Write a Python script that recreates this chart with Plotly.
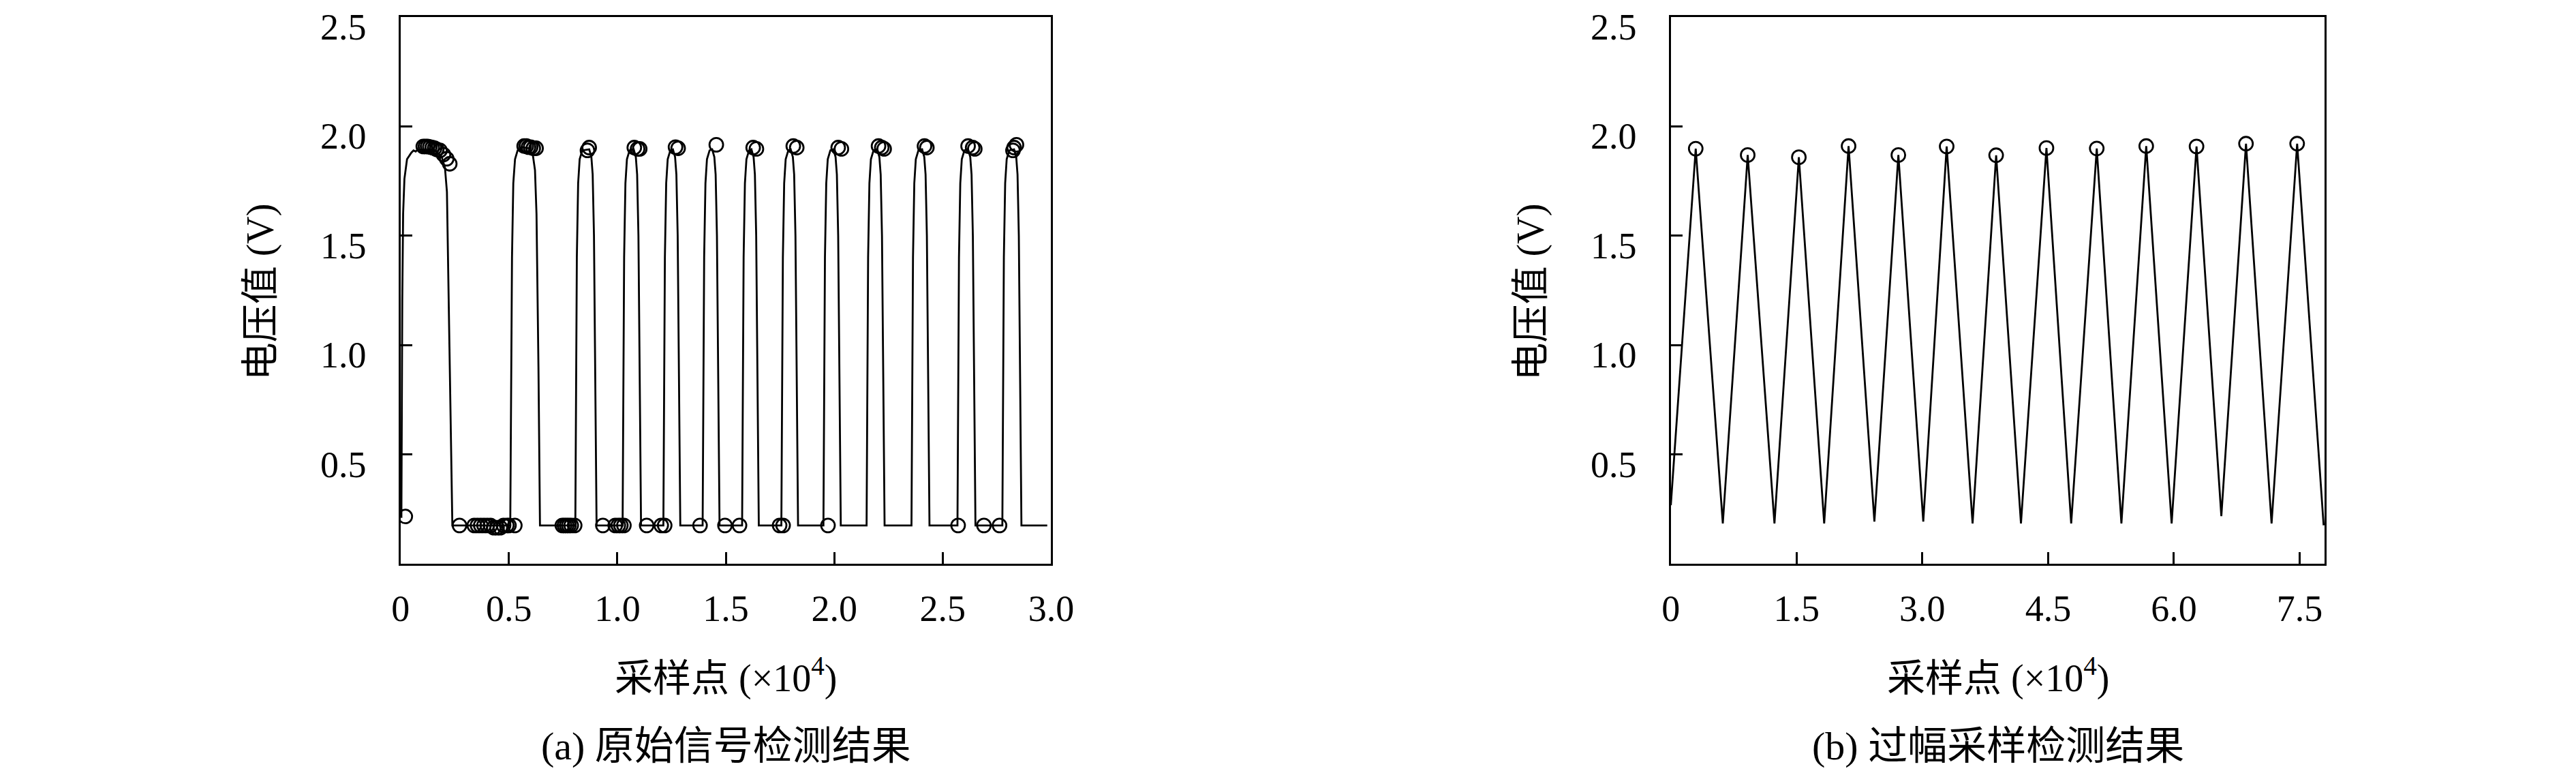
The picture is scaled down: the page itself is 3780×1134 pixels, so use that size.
import plotly.graph_objects as go

# --- (a) raw signal: waveform vertices (x in 1e4 samples, y in volts) ---
RAW_X = [
    0.004, 0.008, 0.012, 0.018, 0.030, 0.050, 0.060, 0.070, 0.080, 0.160, 0.190, 0.205, 0.214, 0.222, 0.232, 0.239,
    0.506, 0.514, 0.520, 0.528, 0.540, 0.560, 0.590, 0.610, 0.620, 0.627, 0.636, 0.643,
    0.806, 0.813, 0.819, 0.826, 0.838, 0.870, 0.880, 0.886, 0.892, 0.904,
    1.024, 1.031, 1.037, 1.044, 1.056, 1.075, 1.085, 1.091, 1.097, 1.109,
    1.212, 1.219, 1.225, 1.232, 1.244, 1.256, 1.266, 1.272, 1.278, 1.290,
    1.393, 1.400, 1.406, 1.413, 1.425, 1.437, 1.447, 1.453, 1.459, 1.471,
    1.575, 1.582, 1.588, 1.595, 1.607, 1.618, 1.628, 1.634, 1.640, 1.652,
    1.756, 1.763, 1.769, 1.776, 1.788, 1.799, 1.809, 1.815, 1.821, 1.833,
    1.950, 1.957, 1.963, 1.970, 1.982, 1.996, 2.006, 2.012, 2.018, 2.030,
    2.149, 2.156, 2.162, 2.169, 2.181, 2.198, 2.208, 2.214, 2.220, 2.232,
    2.356, 2.363, 2.369, 2.376, 2.388, 2.405, 2.415, 2.421, 2.427, 2.439,
    2.568, 2.575, 2.581, 2.588, 2.600, 2.617, 2.627, 2.633, 2.639, 2.651,
    2.775, 2.782, 2.788, 2.795, 2.807, 2.829, 2.839, 2.845, 2.851, 2.863,
    2.982,
]
RAW_Y = [
    0.21, 1.20, 1.60, 1.76, 1.85, 1.88, 1.89, 1.885, 1.895, 1.89, 1.86, 1.81, 1.70, 1.20, 0.60, 0.175,
    0.175, 1.40, 1.74, 1.85, 1.89, 1.905, 1.90, 1.87, 1.80, 1.60, 0.90, 0.175,
    0.175, 1.40, 1.74, 1.85, 1.89, 1.895, 1.86, 1.78, 1.50, 0.175,
    0.175, 1.40, 1.74, 1.85, 1.89, 1.895, 1.86, 1.78, 1.50, 0.175,
    0.175, 1.40, 1.74, 1.85, 1.89, 1.895, 1.86, 1.78, 1.50, 0.175,
    0.175, 1.40, 1.74, 1.85, 1.89, 1.895, 1.86, 1.78, 1.50, 0.175,
    0.175, 1.40, 1.74, 1.85, 1.89, 1.895, 1.86, 1.78, 1.50, 0.175,
    0.175, 1.40, 1.74, 1.85, 1.89, 1.895, 1.86, 1.78, 1.50, 0.175,
    0.175, 1.40, 1.74, 1.85, 1.89, 1.895, 1.86, 1.78, 1.50, 0.175,
    0.175, 1.40, 1.74, 1.85, 1.89, 1.895, 1.86, 1.78, 1.50, 0.175,
    0.175, 1.40, 1.74, 1.85, 1.89, 1.895, 1.86, 1.78, 1.50, 0.175,
    0.175, 1.40, 1.74, 1.85, 1.89, 1.895, 1.86, 1.78, 1.50, 0.175,
    0.175, 1.40, 1.74, 1.85, 1.89, 1.895, 1.86, 1.78, 1.50, 0.175,
    0.175,
]

# detected points on the raw signal
RAW_DET_X = [
    0.022,
    0.105, 0.115, 0.125, 0.135, 0.146, 0.157, 0.167, 0.182, 0.198, 0.213, 0.227,
    0.272, 0.340, 0.355, 0.370, 0.385, 0.400, 0.415, 0.430, 0.445, 0.460, 0.475, 0.490, 0.500, 0.527,
    0.570, 0.580, 0.590, 0.600, 0.612, 0.625,
    0.746, 0.756, 0.766, 0.776, 0.787, 0.803,
    0.862, 0.870,
    0.933, 0.990, 1.004, 1.016, 1.030,
    1.078, 1.093, 1.103,
    1.135, 1.202, 1.218,
    1.268, 1.280,
    1.381,
    1.456,
    1.496, 1.563,
    1.626, 1.641,
    1.748, 1.764,
    1.811, 1.827,
    1.971,
    2.018, 2.033,
    2.204, 2.219, 2.230,
    2.416, 2.427,
    2.571,
    2.617, 2.638, 2.648,
    2.690, 2.762,
    2.824, 2.829, 2.840,
]
RAW_DET_Y = [
    0.216,
    1.908, 1.908, 1.908, 1.906, 1.903, 1.900, 1.895, 1.890, 1.871, 1.852, 1.829,
    0.175, 0.175, 0.175, 0.175, 0.175, 0.175, 0.175, 0.165, 0.165, 0.165, 0.175, 0.175, 0.175, 0.175,
    1.91, 1.91, 1.905, 1.905, 1.90, 1.90,
    0.175, 0.175, 0.175, 0.175, 0.175, 0.175,
    1.89, 1.903,
    0.175, 0.175, 0.175, 0.175, 0.175,
    1.903, 1.897, 1.897,
    0.175, 0.175, 0.175,
    1.905, 1.90,
    0.175,
    1.916,
    0.175, 0.175,
    1.903, 1.897,
    0.175, 0.175,
    1.91, 1.903,
    0.175,
    1.903, 1.897,
    1.91, 1.903, 1.897,
    1.91, 1.903,
    0.175,
    1.91, 1.903, 1.897,
    0.175, 0.175,
    1.89, 1.903, 1.916,
]

# --- (b) over-amplitude sampling: triangle vertices ---
OVR_X = [0, 0.297, 0.620, 0.917, 1.236, 1.527, 1.829, 2.120, 2.428, 2.714, 3.011, 3.290, 3.599,
         3.880, 4.176, 4.480, 4.775, 5.080, 5.374, 5.670, 5.973, 6.270, 6.566, 6.860, 7.165, 7.470, 7.786]
OVR_Y = [0.268, 1.898, 0.184, 1.869, 0.184, 1.859, 0.184, 1.910, 0.193, 1.869, 0.193, 1.908, 0.184,
         1.868, 0.184, 1.901, 0.184, 1.899, 0.184, 1.910, 0.184, 1.908, 0.218, 1.921, 0.184, 1.921, 0.176]
OVR_DET_X = [0.297, 0.917, 1.527, 2.120, 2.714, 3.290, 3.880, 4.480, 5.080, 5.670, 6.270, 6.860, 7.470]
OVR_DET_Y = [1.898, 1.869, 1.859, 1.910, 1.869, 1.908, 1.868, 1.901, 1.899, 1.910, 1.908, 1.921, 1.921]

XTICKS_A = [0, 0.5, 1.0, 1.5, 2.0, 2.5, 3.0]
XTEXT_A = ["0", "0.5", "1.0", "1.5", "2.0", "2.5", "3.0"]
XTICKS_B = [0, 1.5, 3.0, 4.5, 6.0, 7.5]
XTEXT_B = ["0", "1.5", "3.0", "4.5", "6.0", "7.5"]
YTICKS = [0.5, 1.0, 1.5, 2.0, 2.5]
YTEXT = ["0.5", "1.0", "1.5", "2.0", "2.5"]

FONT = "Liberation Serif, Noto Sans CJK SC, serif"
INK = "#000000"
W, H = 3780, 1134
LW = 2.8

fig = go.Figure()

fig.add_trace(go.Scatter(x=RAW_X, y=RAW_Y, mode="lines",
                         line=dict(color=INK, width=LW), xaxis="x", yaxis="y"))
fig.add_trace(go.Scatter(x=RAW_DET_X, y=RAW_DET_Y, mode="markers",
                         marker=dict(symbol="circle-open", size=20, color=INK,
                                     line=dict(color=INK, width=LW)),
                         xaxis="x", yaxis="y"))
fig.add_trace(go.Scatter(x=OVR_X, y=OVR_Y, mode="lines",
                         line=dict(color=INK, width=LW), xaxis="x2", yaxis="y2"))
fig.add_trace(go.Scatter(x=OVR_DET_X, y=OVR_DET_Y, mode="markers",
                         marker=dict(symbol="circle-open", size=20, color=INK,
                                     line=dict(color=INK, width=LW)),
                         xaxis="x2", yaxis="y2"))


def axis_style(**kw):
    d = dict(
        showline=True, linecolor=INK, linewidth=3, mirror=True,
        showgrid=False, zeroline=False,
        ticks="inside", ticklen=17, tickwidth=3, tickcolor=INK,
        tickfont=dict(family=FONT, size=54, color=INK),
        tickmode="array",
    )
    d.update(kw)
    return d


Y_DOM = [1 - 819 / H, 1 - 17 / H]
XA_DOM = [573 / W, 1540 / W]
XB_DOM = [2461 / W, 3433 / W]

fig.update_layout(
    width=W, height=H,
    margin=dict(l=0, r=0, t=0, b=0),
    paper_bgcolor="white", plot_bgcolor="white",
    showlegend=False,
    font=dict(family=FONT, color=INK, size=54),
    xaxis=axis_style(domain=XA_DOM, range=[0, 3.0], tickvals=XTICKS_A, ticktext=XTEXT_A,
                     anchor="y", ticklabelstandoff=16),
    yaxis=axis_style(domain=Y_DOM, range=[0, 2.5], tickvals=YTICKS, showticklabels=False,
                     anchor="x"),
    xaxis2=axis_style(domain=XB_DOM, range=[0, 7.8], tickvals=XTICKS_B, ticktext=XTEXT_B,
                      anchor="y2", ticklabelstandoff=16),
    yaxis2=axis_style(domain=Y_DOM, range=[0, 2.5], tickvals=YTICKS, showticklabels=False,
                      anchor="x2"),
)

TXT = dict(family=FONT, size=56, color=INK)
ann = []
for dom, yref, cap in [(XA_DOM, "y", "(a) 原始信号检测结果"), (XB_DOM, "y2", "(b) 过幅采样检测结果")]:
    cx = (dom[0] + dom[1]) / 2
    # y tick labels sit slightly below their ticks in the original
    for v, t in zip(YTICKS, YTEXT):
        ann.append(dict(x=dom[0] - 48 / W, y=v, xref="paper", yref=yref, showarrow=False,
                        text=t, font=dict(family=FONT, size=54, color=INK),
                        xanchor="right", yanchor="middle", yshift=-15))
    ann.append(dict(x=cx, y=1 - 983 / H, xref="paper", yref="paper", showarrow=False,
                    text="采样点 (×10<sup>4</sup>)", font=TXT, xanchor="center", yanchor="middle"))
    ann.append(dict(x=cx, y=1 - 1086 / H, xref="paper", yref="paper", showarrow=False,
                    text=cap, font=dict(family=FONT, size=58, color=INK),
                    xanchor="center", yanchor="middle"))
    ann.append(dict(x=dom[0] - 208 / W, y=1 - 420 / H, xref="paper", yref="paper", showarrow=False,
                    text="电压值 (V)", textangle=-90, font=TXT,
                    xanchor="center", yanchor="middle"))
fig.update_layout(annotations=ann)

fig.write_html("out.html")
